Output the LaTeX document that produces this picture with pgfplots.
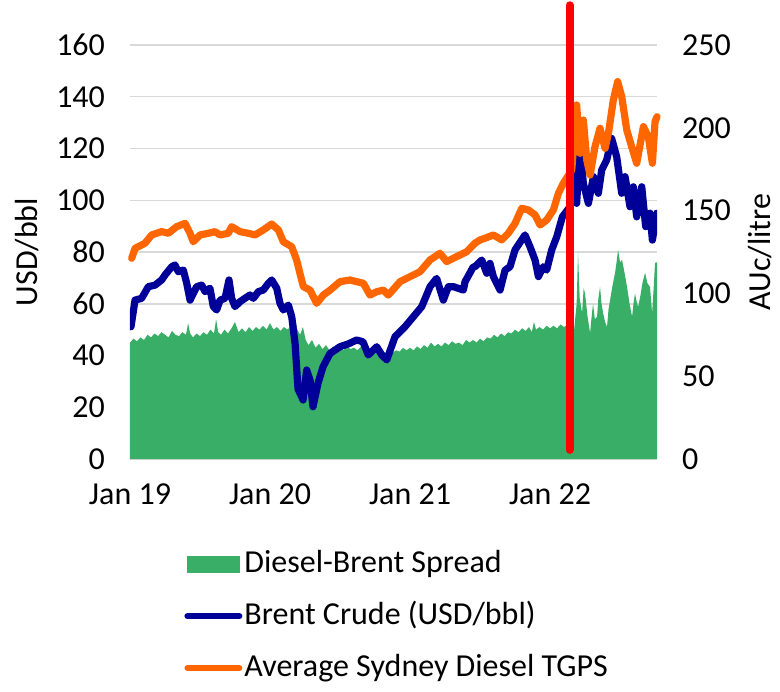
\documentclass[border=0pt]{standalone}
\usepackage{fontspec}
\setmainfont{Carlito}
\usepackage{pgfplots}
\pgfplotsset{compat=1.18}

\definecolor{spreadgreen}{HTML}{38AE67}
\definecolor{brentblue}{HTML}{000099}
\definecolor{tgpsorange}{HTML}{FF6600}
\definecolor{gridgray}{HTML}{D9D9D9}
\newcommand\cf{\fontsize{16}{19.2}\selectfont}

\pgfplotsset{
  base/.style={
    scale only axis, width=263.5pt, height=207pt,
    xmin=0, xmax=3.764,
    axis line style={draw=none},
    major tick length=0pt,
    tick label style={font=\cf},
    label style={font=\cf},
    /pgf/number format/assume math mode=true,
  },
  areaimg/.style={legend image code/.code={\fill[##1] (0pt,-4pt) rectangle (26pt,4pt);}},
  lineimg/.style={legend image code/.code={\draw[##1, line width=3pt] (0pt,0pt) -- (26pt,0pt);}},
}

\begin{document}
\begin{tikzpicture}
% left axis: spread and Brent, USD/bbl
\begin{axis}[base, name=main,
  ymin=0, ymax=160, ytick={0,20,...,160},
  ymajorgrids, grid style={gridgray, line width=0.75pt},
  xtick={0,1,2,3}, xticklabels={Jan 19, Jan 20, Jan 21, Jan 22},
  xticklabel shift=9pt,
  yticklabel shift=9pt,
  ylabel={USD/bbl},
  ylabel style={at={(axis description cs:-0.195,0.5)}, anchor=center},
]
% Diesel-Brent spread
\addplot[fill=spreadgreen, draw=none] coordinates {
(0.000,45) (0.025,46.5) (0.050,45.5) (0.075,47) (0.100,46) (0.125,48) (0.150,47) (0.175,48.5)
(0.200,47.5) (0.225,49) (0.250,48) (0.275,47) (0.300,49.5) (0.325,48) (0.350,47.5) (0.375,49)
(0.400,48) (0.415,52.5) (0.430,48.5) (0.450,47) (0.475,48.5) (0.500,47.5) (0.525,49) (0.550,48)
(0.575,50) (0.600,48.5) (0.615,54) (0.630,49) (0.650,48) (0.675,50) (0.700,48.5) (0.725,50.5)
(0.750,53) (0.775,49) (0.800,50.5) (0.825,49) (0.850,51) (0.875,49.5) (0.900,51) (0.925,50)
(0.950,51.5) (0.975,50) (1.000,52.5) (1.025,50) (1.050,51) (1.075,49.5) (1.100,51) (1.125,50)
(1.150,51.5) (1.175,56) (1.195,50) (1.215,48) (1.235,51) (1.255,46) (1.275,44) (1.300,46)
(1.325,43) (1.350,44.5) (1.375,42.5) (1.400,44) (1.425,42) (1.450,43.5) (1.475,42) (1.500,43)
(1.525,42) (1.550,43.5) (1.575,42.5) (1.600,43) (1.625,42) (1.650,43.5) (1.675,42) (1.700,43)
(1.725,41.5) (1.750,42.5) (1.775,41) (1.800,42) (1.825,41) (1.850,42.5) (1.875,41) (1.900,42)
(1.925,41.5) (1.950,43) (1.975,42) (2.000,43) (2.025,42) (2.050,43.5) (2.075,42.5) (2.100,44)
(2.125,43) (2.150,45) (2.175,43.5) (2.200,44.5) (2.225,43.5) (2.250,45) (2.275,44) (2.300,45.5)
(2.325,44.5) (2.350,45) (2.375,44) (2.400,46) (2.425,45) (2.450,46) (2.475,45) (2.500,46.5)
(2.525,45.5) (2.550,47) (2.575,46.5) (2.600,48) (2.625,47) (2.650,48.5) (2.675,47.5) (2.700,49)
(2.725,48.5) (2.750,50) (2.775,49) (2.800,50.5) (2.825,49.5) (2.850,51) (2.870,49) (2.885,53)
(2.900,50) (2.925,51) (2.950,50) (2.975,51.5) (3.000,50.5) (3.025,51.5) (3.050,50.5) (3.075,52)
(3.100,51) (3.125,52) (3.157,52.5) (3.170,48.7) (3.190,60) (3.200,79.6) (3.212,62) (3.229,56.4)
(3.240,66) (3.250,64) (3.268,55) (3.286,48.7) (3.297,55) (3.307,60) (3.320,54) (3.336,55)
(3.345,62) (3.357,66.5) (3.368,60) (3.379,56.4) (3.393,53) (3.407,51) (3.418,58) (3.429,61.4)
(3.446,67) (3.464,71.8) (3.475,76) (3.486,80.8) (3.500,76) (3.514,77) (3.532,72) (3.550,66.5)
(3.568,60) (3.586,55) (3.596,60) (3.607,64) (3.618,61) (3.629,58.8) (3.645,63) (3.660,68)
(3.679,72) (3.695,68) (3.714,66.5) (3.729,56.4) (3.740,66) (3.750,75.8) (3.764,76)
} \closedcycle;
% Brent crude
\addplot[brentblue, line width=3.6pt, line join=round, line cap=round] coordinates {
(0.007,51.1) (0.036,61.4) (0.083,62.1) (0.131,66.6) (0.179,67.2) (0.226,69.2) (0.250,71.1)
(0.298,74.3) (0.321,75) (0.345,72.4) (0.381,73) (0.405,67.9) (0.429,61.4) (0.452,64)
(0.476,66.6) (0.512,67.2) (0.536,64.7) (0.571,66) (0.595,58.9) (0.619,57.6) (0.643,61.4)
(0.679,62.1) (0.707,69.2) (0.726,62.1) (0.750,58.9) (0.786,60.8) (0.821,62.1) (0.857,63.4)
(0.881,62.1) (0.917,64.7) (0.952,65.3) (0.988,67.9) (1.012,69.2) (1.048,66) (1.071,60.2)
(1.095,57.6) (1.131,59.5) (1.155,55) (1.179,44.7) (1.200,27) (1.226,24.1) (1.236,22.8)
(1.262,34.4) (1.286,30.5) (1.307,20.2) (1.343,29.3) (1.379,35.7) (1.429,40.8) (1.500,43.4)
(1.560,44.5) (1.619,46) (1.664,45.3) (1.702,40.2) (1.762,43.4) (1.798,40.2) (1.834,38.3)
(1.893,47.3) (1.964,51.1) (2.024,55) (2.084,58.9) (2.143,66.6) (2.190,69.8) (2.238,61.4)
(2.274,66.6) (2.310,66.6) (2.381,65.3) (2.393,68.5) (2.452,74.3) (2.464,74.3) (2.512,76.9)
(2.548,71.8) (2.571,75.6) (2.595,70.5) (2.643,65.3) (2.679,73) (2.714,74.3) (2.750,80.8)
(2.821,86.6) (2.857,82) (2.893,76.9) (2.917,70.5) (2.952,74.3) (2.976,73) (3.012,80.8)
(3.048,85.9) (3.088,93.6) (3.143,97.5) (3.167,128.4) (3.190,98.8) (3.214,120.7) (3.238,106.5)
(3.274,98.8) (3.310,109.1) (3.345,102.7) (3.369,111.7) (3.405,115.6) (3.440,123.9) (3.476,116.8)
(3.512,102.7) (3.536,109.1) (3.571,97.5) (3.595,105.2) (3.619,93.6) (3.655,105.2) (3.683,89.8)
(3.714,95) (3.731,84.6) (3.762,95)
};
\end{axis}
% right axis: Sydney TGPS, AUc/litre
\begin{axis}[base, clip=false,
  axis y line*=right, axis x line=none,
  ymin=0, ymax=250, ytick={0,50,...,250},
  yticklabel shift=9pt,
  ylabel={AUc/litre},
  ylabel style={at={(axis description cs:1.195,0.5)}, anchor=center},
  legend style={draw=none, fill=none, font=\cf, at={(0.1025,-0.212)}, anchor=north west,
    inner sep=0pt, row sep=9pt,
    nodes={inner sep=1pt, text height=11.5pt, text depth=3.5pt}},
  legend cell align=left,
]
\addlegendimage{spreadgreen, areaimg}
\addlegendentry{Diesel-Brent Spread}
\addlegendimage{brentblue, line cap=round, lineimg}
\addlegendentry{Brent Crude (USD/bbl)}
\addplot[tgpsorange, line width=3.6pt, line join=round, line cap=round, lineimg] coordinates {
(0.012,121.2) (0.036,127.2) (0.107,130.3) (0.155,135.3) (0.226,137.3) (0.274,136.3) (0.333,140.3)
(0.393,142.3) (0.429,136.3) (0.452,131.2) (0.500,135.3) (0.560,136.3) (0.607,137.3) (0.643,135.3)
(0.702,136.3) (0.726,140.3) (0.786,137.3) (0.845,136.3) (0.893,135.3) (0.952,138.3) (1.012,141.9)
(1.060,138.3) (1.095,131.2) (1.155,128.2) (1.190,120.2) (1.214,112) (1.238,104.1) (1.286,102)
(1.333,94) (1.381,99) (1.429,102) (1.500,107.1) (1.571,108.1) (1.667,106.1) (1.714,99)
(1.762,101) (1.810,102) (1.845,99) (1.929,107.1) (2.024,111.1) (2.071,113.1) (2.143,120.2)
(2.214,124.2) (2.262,119.2) (2.333,122.2) (2.405,125.2) (2.464,130.3) (2.500,132.3) (2.536,133.3)
(2.595,135.3) (2.655,132.3) (2.702,136.3) (2.750,142.3) (2.798,151.4) (2.845,150.4) (2.893,147.4)
(2.929,141.3) (2.976,144.3) (3.024,150.4) (3.060,160.5) (3.095,166.5) (3.155,174.5) (3.174,194.6)
(3.190,213.8) (3.214,184.6) (3.238,204.7) (3.262,180.6) (3.286,171.5) (3.321,188.6) (3.357,199.7)
(3.393,187.6) (3.417,196.7) (3.452,216.8) (3.483,227.9) (3.512,218.8) (3.548,198.7) (3.583,188.6)
(3.619,178.6) (3.667,200.7) (3.702,194.6) (3.731,178.6) (3.750,203.7) (3.764,206.7)
};
\addlegendentry{Average Sydney Diesel TGPS}
% marker line for 24 Feb 2022
\addplot[red, line width=4pt, line cap=round, forget plot] coordinates {(3.14,5.5) (3.14,274)};
\end{axis}
\pgfresetboundingbox
\path[use as bounding box] ([xshift=-65pt,yshift=-116pt]main.south west)
  rectangle ([xshift=61.5pt,yshift=22.5pt]main.north east);
\end{tikzpicture}
\end{document}
